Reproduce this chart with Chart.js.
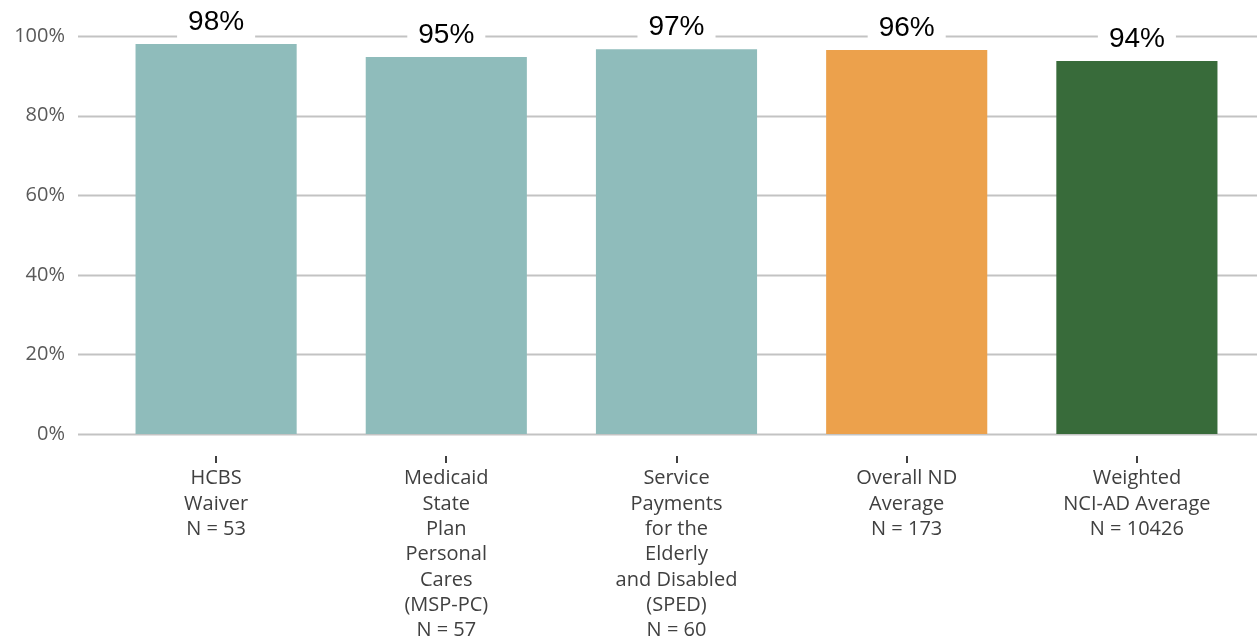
<!DOCTYPE html>
<html>
<head>
<meta charset="utf-8">
<script src="https://cdn.jsdelivr.net/npm/chart.js@4/dist/chart.umd.min.js"></script>
<style>
  html, body { margin: 0; padding: 0; background: #fff; }
  #wrap { width: 1257px; height: 644px; position: relative; }
</style>
</head>
<body>
<div id="wrap"><canvas id="chart"></canvas></div>
<script>
// chart data
const categories = [
    ['HCBS', 'Waiver', 'N = 53'],
    ['Medicaid', 'State', 'Plan', 'Personal', 'Cares', '(MSP-PC)', 'N = 57'],
    ['Service', 'Payments', 'for the', 'Elderly', 'and Disabled', '(SPED)', 'N = 60'],
    ['Overall ND', 'Average', 'N = 173'],
    ['Weighted', 'NCI-AD Average', 'N = 10426']
];
const values = [98, 94.7, 96.7, 96.5, 93.7];
const valueLabels = ['98%', '95%', '97%', '96%', '94%'];
const barColors = ['#8fbcbb', '#8fbcbb', '#8fbcbb', '#eca14c', '#386b3a'];
const yTicks = [0, 20, 40, 60, 80, 100];

// horizontal grid lines run wider than the bar area, plus the little tick marks under the axis
const gridPlugin = {
    id: 'gridPlugin',
    beforeDatasetsDraw(chart) {
        const ctx = chart.ctx;
        const y = chart.scales.y;
        ctx.save();
        ctx.strokeStyle = '#c3c3c3';
        ctx.lineWidth = 2;
        yTicks.forEach(v => {
            const py = Math.round(y.getPixelForValue(v)) + 0.5;
            ctx.beginPath();
            ctx.moveTo(78, py);
            ctx.lineTo(chart.width, py);
            ctx.stroke();
        });
        const x = chart.scales.x;
        ctx.strokeStyle = '#404040';
        ctx.lineWidth = 2;
        categories.forEach((c, i) => {
            const px = Math.round(x.getPixelForValue(i));
            ctx.beginPath();
            ctx.moveTo(px, 456);
            ctx.lineTo(px, 463);
            ctx.stroke();
        });
        ctx.restore();
    }
};

// value labels with a white box behind them
const labelPlugin = {
    id: 'labelPlugin',
    afterDatasetsDraw(chart) {
        const ctx = chart.ctx;
        const meta = chart.getDatasetMeta(0);
        ctx.save();
        ctx.font = '28px "Liberation Sans", Arial, sans-serif';
        ctx.textAlign = 'center';
        ctx.textBaseline = 'middle';
        meta.data.forEach((bar, i) => {
            const txt = valueLabels[i];
            const w = ctx.measureText(txt).width + 22;
            const cy = bar.y - 22;
            ctx.fillStyle = '#ffffff';
            ctx.fillRect(bar.x - w / 2, cy - 17, w, 34);
            ctx.fillStyle = '#000000';
            ctx.fillText(txt, bar.x, cy);
        });
        ctx.restore();
    }
};

const ctx = document.getElementById('chart').getContext('2d');
const chart = new Chart(ctx, {
    type: 'bar',
    data: {
        labels: categories,
        datasets: [{
            data: values,
            backgroundColor: barColors,
            categoryPercentage: 1,
            barPercentage: 0.7
        }]
    },
    options: {
        responsive: true,
        maintainAspectRatio: false,
        animation: false,
        layout: { padding: { top: 36, right: 5, left: 0, bottom: 0 } },
        plugins: {
            legend: { display: false },
            tooltip: { enabled: false }
        },
        scales: {
            x: {
                grid: { display: false },
                border: { display: false },
                ticks: {
                    color: '#404040',
                    padding: 24,
                    maxRotation: 0,
                    autoSkip: false,
                    font: { family: '"Open Sans", "Noto Sans", sans-serif', size: 20, lineHeight: 1.265 }
                },
                afterFit(scale) { scale.height = 644 - 434; }
            },
            y: {
                min: 0,
                max: 100,
                grid: { display: false },
                border: { display: false },
                afterBuildTicks(scale) { scale.ticks = yTicks.map(v => ({ value: v })); },
                ticks: {
                    color: '#595959',
                    padding: 28,
                    font: { family: '"Open Sans", "Noto Sans", sans-serif', size: 20 },
                    callback: v => v + '%'
                },
                afterFit(scale) {
                    scale.width = 101;
                    scale.paddingTop = 0;
                    scale.paddingBottom = 0;
                }
            }
        }
    },
    plugins: [gridPlugin, labelPlugin]
});
</script>
</body>
</html>
